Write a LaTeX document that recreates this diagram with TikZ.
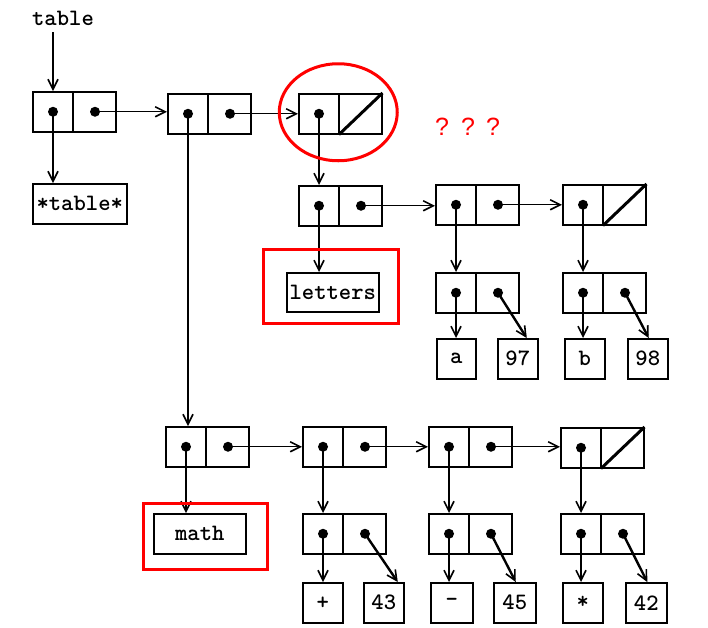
\documentclass[tikz,border=0pt]{standalone}
\usepackage{fontspec}
\setsansfont{Liberation Sans}
\usetikzlibrary{arrows.meta,calc}
\tikzset{
  ln/.style={line width=1.4pt},
  arr/.style={ln, -{Straight Barb[length=10pt,width=10pt,line width=1.6pt]}},
  darr/.style={line width=2.4pt, -{Straight Barb[length=10pt,width=10pt,line width=1.6pt]}},
  cellbox/.style={draw, line width=1.5pt, minimum width=83pt, minimum height=40pt, inner sep=0pt, anchor=north west},
  txt/.style={font=\ttfamily\bfseries\fontsize{23.5}{23.5}\selectfont},
  atombox/.style={draw, line width=1.5pt, minimum width=40pt, minimum height=40pt, inner sep=0pt, anchor=north west, txt},
  strbox/.style={draw, line width=1.5pt, minimum width=92pt, minimum height=40pt, inner sep=0pt, anchor=north west, txt},
  hl/.style={draw=red, line width=3pt},
  qmark/.style={text=red, font=\sffamily\fontsize{25}{25}\selectfont, inner sep=0pt},
}
\newcommand\cellbase[3]{%
  \node[cellbox] (#1) at (#2,#3) {};
  \draw[ln] ($(#1.north west)+(41,0)$) -- ($(#1.south west)+(41,0)$);
  \coordinate (#1-car) at ($(#1.west)+(21,0)$);
  \coordinate (#1-cdr) at ($(#1.west)+(63,0)$);
  \fill (#1-car) circle (5pt);
}
\newcommand\conscell[3]{%
  \cellbase{#1}{#2}{#3}
  \fill (#1-cdr) circle (5pt);
}
\newcommand\nilcell[3]{%
  \cellbase{#1}{#2}{#3}
  \draw[line width=3pt] ($(#1.south west)+(41,0)$) -- (#1.north east);
}
\begin{document}
\begin{tikzpicture}[x=1pt,y=-1pt]
\useasboundingbox (0,0) rectangle (708,627);

% label
\node[txt, inner sep=0pt] (tlabel) at (63,18) {table};
\coordinate (tstart) at (53,32);

% cons cells
\conscell{c1}{32}{91}
\conscell{c2}{167}{93}
\nilcell{c3}{298}{93}
\conscell{c4}{298}{185}
\conscell{c5}{435}{184}
\nilcell{c6}{562}{184}
\conscell{c7}{435}{272}
\conscell{c8}{562}{272}
\conscell{c9}{165}{426}
\conscell{c10}{302}{426}
\conscell{c11}{428}{426}
\nilcell{c12}{560}{427}
\conscell{c13}{302}{513}
\conscell{c14}{428}{513}
\conscell{c15}{560}{513}

% string boxes
\node[strbox, minimum width=94pt] (tstr) at (32,183) {*table*};
\node[strbox, minimum height=39pt] (letters) at (286,272) {letters};
\node[strbox] (math) at (153,513) {math};

% atom boxes
\node[atombox, minimum width=39pt] (na) at (436,338) {a};
\node[atombox] (n97) at (497,338) {97};
\node[atombox] (nb) at (564,338) {b};
\node[atombox] (n98) at (627,338) {98};
\node[atombox] (nplus) at (302,582) {+};
\node[atombox] (n43) at (363,582) {43};
\node[atombox, minimum width=42pt] (nminus) at (430,582) {-};
\node[atombox, minimum width=42pt] (n45) at (493,582) {45};
\node[atombox] (nstar) at (562,582) {*};
\node[atombox, minimum width=41pt] (n42) at (625,582) {42};

% arrows
\draw[arr] (tstart) -- (tstart |- c1.north);
\draw[arr] (c1-car) -- (c1-car |- tstr.north);
\draw[arr] (c1-cdr) -- (c1-cdr -| c2.west);
\draw[arr] (c2-car) -- (c2-car |- c9.north);
\draw[arr] (c2-cdr) -- (c2-cdr -| c3.west);
\draw[arr] (c3-car) -- (c3-car |- c4.north);
\draw[arr] (c4-car) -- (c4-car |- letters.north);
\draw[arr] (c4-cdr) -- (c4-cdr -| c5.west);
\draw[arr] (c5-car) -- (c5-car |- c7.north);
\draw[arr] (c5-cdr) -- (c5-cdr -| c6.west);
\draw[arr] (c6-car) -- (c6-car |- c8.north);
\draw[arr] (c7-car) -- (c7-car |- na.north);
\draw[darr] (c7-cdr) -- ($(n97.north)+(9,0)$);
\draw[arr] (c8-car) -- (c8-car |- nb.north);
\draw[darr] (c8-cdr) -- ($(n98.north)+(1,0)$);
\draw[arr] (c9-car) -- (c9-car |- math.north);
\draw[arr] (c9-cdr) -- (c9-cdr -| c10.west);
\draw[arr] (c10-car) -- (c10-car |- c13.north);
\draw[arr] (c10-cdr) -- (c10-cdr -| c11.west);
\draw[arr] (c11-car) -- (c11-car |- c14.north);
\draw[arr] (c11-cdr) -- (c11-cdr -| c12.west);
\draw[arr] (c12-car) -- (c12-car |- c15.north);
\draw[arr] (c13-car) -- (c13-car |- nplus.north);
\draw[darr] (c13-cdr) -- ($(n43.north)+(14,0)$);
\draw[arr] (c14-car) -- (c14-car |- nminus.north);
\draw[darr] (c14-cdr) -- ($(n45.north)+(1,0)$);
\draw[arr] (c15-car) -- (c15-car |- nstar.north);
\draw[darr] (c15-cdr) -- ($(n42.north)+(1,0)$);

% red highlights
\draw[hl] ($(c3.center)+(-2,-1.5)$) ellipse [x radius=59pt, y radius=48.5pt];
\draw[hl] ($(letters.north west)+(-23,-23)$) rectangle ($(letters.south east)+(19,11)$);
\draw[hl] ($(math.north west)+(-10,-10)$) rectangle ($(math.south east)+(21,15)$);
\node[qmark] (q1) at (442,127) {?};
\node[qmark] (q2) at (468,127) {?};
\node[qmark] (q3) at (493,127) {?};
\end{tikzpicture}
\end{document}
